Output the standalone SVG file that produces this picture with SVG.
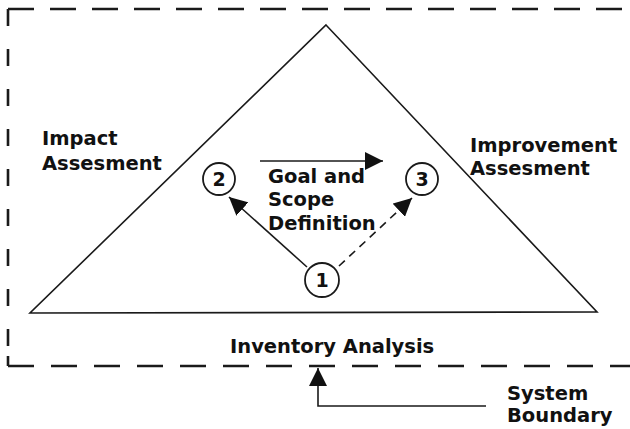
<svg xmlns="http://www.w3.org/2000/svg" width="630" height="429" viewBox="0 0 630 429">
  <style>
    .lbl { font-family: "DejaVu Sans", Verdana, sans-serif; font-weight: bold; font-size: 19.5px; fill: #111; }
    .num { font-family: "DejaVu Sans", Verdana, sans-serif; font-weight: bold; font-size: 19px; fill: #111; text-anchor: middle; }
    .edge { stroke: #1a1a1a; stroke-width: 1.6; fill: none; }
    .bound { stroke: #1a1a1a; stroke-width: 2.6; fill: none; }
    .node circle { fill: #fff; stroke: #1a1a1a; stroke-width: 1.8; }
  </style>
  <defs>
    <marker id="bighead" markerWidth="18" markerHeight="18" refX="18" refY="9" orient="auto" markerUnits="userSpaceOnUse" viewBox="0 0 18 18">
      <path d="M0,0 L18,9 L0,18 Z" fill="#111"/>
    </marker>
  </defs>
  <rect width="630" height="429" fill="#fff"/>

  <!-- system boundary (dashed, runs off the right edge) -->
  <g id="boundary">
    <path class="bound" d="M8,9 H640" stroke-dasharray="26 16"/>
    <path class="bound" d="M8,366 H640" stroke-dasharray="26 17"/>
    <path class="bound" d="M8,9 V366" stroke-dasharray="17 23"/>
    <path class="bound" d="M8,356 V366"/>
  </g>

  <!-- LCA triangle -->
  <g id="triangle">
    <path class="edge" d="M326,25 L597,312 L30,313 Z" stroke-linejoin="miter"/>
  </g>

  <!-- connectors -->
  <g id="connectors">
    <line class="edge" x1="260" y1="161" x2="383" y2="161" stroke-width="2" marker-end="url(#bighead)"/>
    <line class="edge" x1="307" y1="267" x2="229" y2="197" marker-end="url(#bighead)"/>
    <line class="edge" x1="339" y1="266" x2="412" y2="198" stroke-dasharray="8 6" marker-end="url(#bighead)"/>
    <path class="edge" d="M486,406 H318 V368" stroke-width="2" marker-end="url(#bighead)"/>
  </g>

  <!-- numbered phases -->
  <g id="node-2" class="node">
    <circle cx="219" cy="179" r="16"/>
    <text class="num" x="219" y="186">2</text>
  </g>
  <g id="node-3" class="node">
    <circle cx="422" cy="179" r="16"/>
    <text class="num" x="422" y="186">3</text>
  </g>
  <g id="node-1" class="node">
    <circle cx="322" cy="280" r="17"/>
    <text class="num" x="322" y="287">1</text>
  </g>

  <!-- labels -->
  <g id="labels">
    <text class="lbl" x="268" y="183">Goal and</text>
    <text class="lbl" x="268" y="206">Scope</text>
    <text class="lbl" x="268" y="230">Definition</text>
    <text class="lbl" x="42" y="145">Impact</text>
    <text class="lbl" x="42" y="170">Assesment</text>
    <text class="lbl" x="470" y="152">Improvement</text>
    <text class="lbl" x="470" y="175">Assesment</text>
    <text class="lbl" x="230" y="353">Inventory Analysis</text>
    <text class="lbl" x="507" y="400">System</text>
    <text class="lbl" x="507" y="422">Boundary</text>
  </g>
</svg>
